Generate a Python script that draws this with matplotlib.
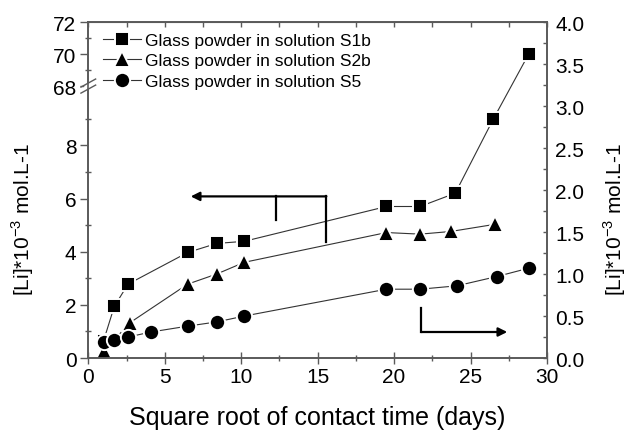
import numpy as np
import matplotlib.pyplot as plt
from matplotlib.ticker import FixedLocator, MultipleLocator, NullFormatter

plt.rcParams['font.family'] = ['Liberation Sans', 'DejaVu Sans']

# sqrt of contact time (days)
s1b_x = [1.0, 1.7, 2.6, 6.5, 8.4, 10.2, 19.5, 21.7, 24.0, 26.5, 28.8]
s1b_y = [0.65, 1.94, 2.78, 3.97, 4.31, 4.39, 5.70, 5.70, 6.20, 9.00, 70.0]

s2b_x = [1.0, 1.7, 2.7, 6.5, 8.4, 10.2, 19.5, 21.7, 23.7, 26.6]
s2b_y = [0.25, 0.68, 1.32, 2.78, 3.16, 3.60, 4.72, 4.66, 4.76, 5.03]

# S5 goes on the right axis
s5_x = [1.0, 1.7, 2.6, 4.1, 6.5, 8.4, 10.2, 19.5, 21.7, 24.1, 26.7, 28.8]
s5_y = [0.19, 0.21, 0.25, 0.31, 0.38, 0.43, 0.50, 0.82, 0.82, 0.86, 0.97, 1.07]

labels = ['Glass powder in solution S1b', 'Glass powder in solution S2b',
          'Glass powder in solution S5']

left_major = [0, 2, 4, 6, 8, 68, 70, 72]
left_minor = [1, 3, 5, 7, 9, 69, 71]

# broken left axis: 0..~10 then 68..72 compressed
BRK_LO = 10.23
BRK_HI = 68.0
RATIO = 0.6


def fwd(y):
    y = np.asarray(y, dtype=float)
    return np.where(y <= BRK_LO, y,
                    np.where(y >= BRK_HI, BRK_LO + (y - BRK_HI) * RATIO, BRK_LO))


def inv(t):
    t = np.asarray(t, dtype=float)
    return np.where(t <= BRK_LO, t, BRK_HI + (t - BRK_LO) / RATIO)


spine_col = '#5a5a5a'
line_col = '#333333'

fig = plt.figure(figsize=(6.32, 4.31), dpi=100)
ax = fig.add_axes([0.1397, 0.167, 0.7258, 0.779])
ax.set_yscale('function', functions=(fwd, inv))
ax.set_xlim(0, 30)
ax.set_ylim(0, 72)

common = dict(color=line_col, lw=0.8, mfc='black', mec='white', mew=1.4)
h1, = ax.plot(s1b_x, s1b_y, marker='s', ms=10.5, label=labels[0], **common)
h2, = ax.plot(s2b_x, s2b_y, marker='^', ms=12, label=labels[1], **common)

ax2 = ax.twinx()
ax2.set_ylim(0, 4.0)
h3, = ax2.plot(s5_x, s5_y, marker='o', ms=11, label=labels[2], **common)

# ticks
ax.yaxis.set_major_locator(FixedLocator(left_major))
ax.yaxis.set_minor_locator(FixedLocator(left_minor))
ax.yaxis.set_minor_formatter(NullFormatter())
ax.xaxis.set_major_locator(MultipleLocator(5))
ax.xaxis.set_minor_locator(MultipleLocator(2.5))
ax2.yaxis.set_major_locator(MultipleLocator(0.5))
ax2.yaxis.set_minor_locator(MultipleLocator(0.25))
ax2.yaxis.set_major_formatter(plt.FormatStrFormatter('%.1f'))

ax.tick_params(axis='x', which='major', direction='inout', length=9, width=1,
               color=spine_col, labelsize=15, pad=2)
ax.tick_params(axis='x', which='minor', direction='inout', length=5, width=1, color=spine_col)
ax.tick_params(axis='y', which='major', direction='out', length=5.5, width=1,
               color=spine_col, labelsize=15, pad=3)
ax.tick_params(axis='y', which='minor', direction='inout', length=4.5, width=1, color=spine_col)
ax2.tick_params(axis='y', which='both', direction='in', length=3.2, width=1,
                color=spine_col, labelsize=15, pad=6)

top = ax.secondary_xaxis('top')
top.xaxis.set_major_locator(MultipleLocator(5))
top.xaxis.set_minor_locator(MultipleLocator(2.5))
top.tick_params(which='both', direction='in', length=3.5, width=1, color=spine_col,
                labeltop=False)
top.spines['top'].set_color(spine_col)

for a in (ax, ax2):
    for s in a.spines.values():
        s.set_color(spine_col)
        s.set_linewidth(1.2)

# axis break marker on the left spine
yb = float(fwd(BRK_HI) / fwd(72))
ax.plot([-0.004, 0.004], [yb - 0.004, yb + 0.004], transform=ax.transAxes,
        color='white', lw=3, clip_on=False, zorder=5)
for dy in (-0.009, 0.009):
    ax.plot([-0.016, 0.016], [yb + dy - 0.012, yb + dy + 0.012], transform=ax.transAxes,
            color=spine_col, lw=1, clip_on=False, zorder=6)

# arrows showing which axis each group belongs to
arr = dict(arrowstyle='-|>', lw=1.6, color='black', mutation_scale=13, shrinkA=0, shrinkB=0)
ax.annotate('', xy=(6.7, 6.08), xytext=(15.57, 6.08), arrowprops=arr)
ax.plot([15.57, 15.57], [6.08, 4.35], color='black', lw=1.6)
ax.plot([12.29, 12.29], [6.08, 5.19], color='black', lw=1.6)
ax2.plot([21.79, 21.79], [0.60, 0.31], color='black', lw=1.6)
ax2.annotate('', xy=(27.4, 0.31), xytext=(21.79, 0.31), arrowprops=arr)

ax.set_xlabel('Square root of contact time (days)', fontsize=18, labelpad=14)
ylab = '[Li]*10$^{\\mathregular{-3}}$ mol.L-1'
ax.set_ylabel(ylab, fontsize=15)
ax2.set_ylabel(ylab, fontsize=15)
ax.yaxis.set_label_coords(-0.115, 0.415)
ax2.yaxis.set_label_coords(1.118, 0.415)

ax2.legend([h1, h2, h3], labels, loc='upper left', bbox_to_anchor=(0.032, 0.969),
           frameon=False, fontsize=12.5, handlelength=2.2, handletextpad=0.2,
           labelspacing=0.31, borderaxespad=0, borderpad=0)

fig.savefig('out.png', dpi=100)
